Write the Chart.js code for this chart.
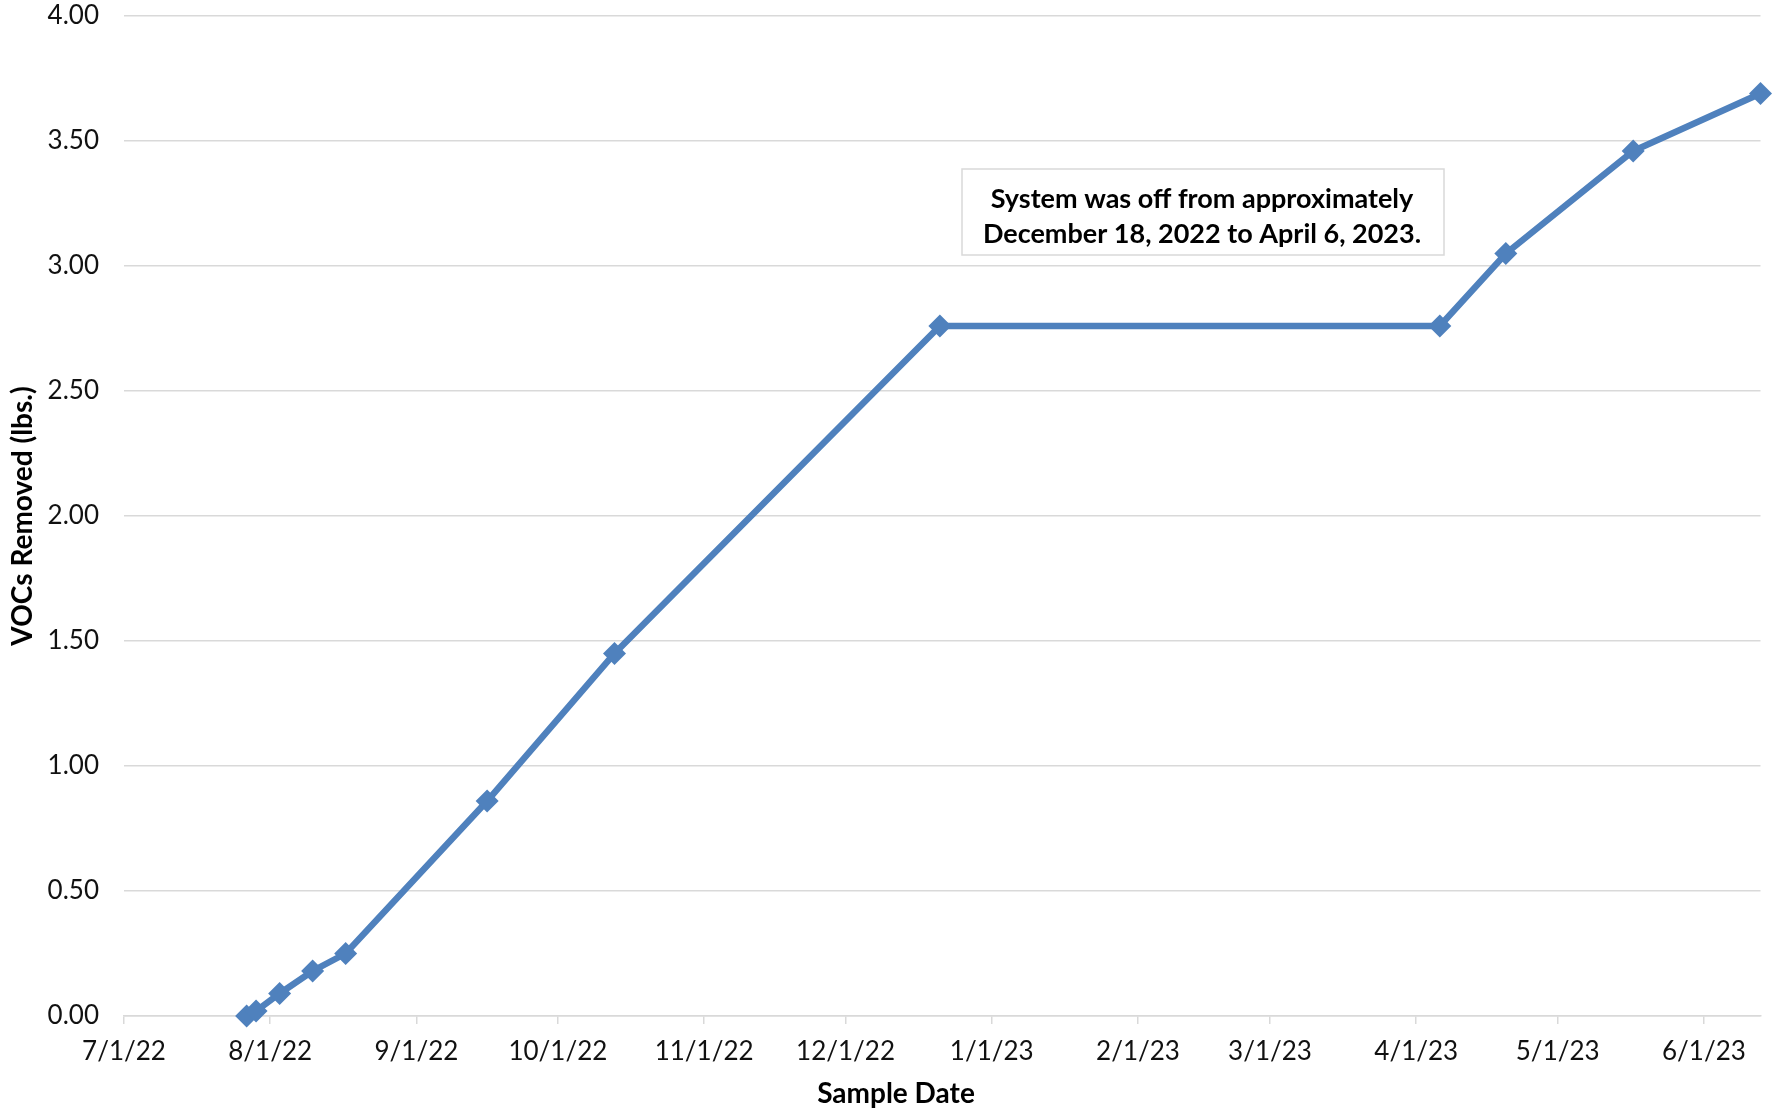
<!DOCTYPE html>
<html>
<head>
<meta charset="utf-8">
<script src="https://cdn.jsdelivr.net/npm/chart.js@4.4.1/dist/chart.umd.min.js"></script>
<style>
  html, body { margin: 0; padding: 0; background: #fff; }
  #wrap { width: 1772px; height: 1115px; }
</style>
</head>
<body>
<div id="wrap"><canvas id="chart"></canvas></div>
<script>
// sample dates and cumulative VOCs removed (lbs.)
const sampleDates = ['2022-07-27', '2022-07-29', '2022-08-03', '2022-08-10', '2022-08-17', '2022-09-16',
  '2022-10-13', '2022-12-21', '2023-04-06', '2023-04-20', '2023-05-17', '2023-06-13'];
const vocsRemoved = [0.00, 0.02, 0.09, 0.18, 0.25, 0.86, 1.45, 2.76, 2.76, 3.05, 3.46, 3.69];

const xTickDates = ['2022-07-01', '2022-08-01', '2022-09-01', '2022-10-01', '2022-11-01', '2022-12-01',
  '2023-01-01', '2023-02-01', '2023-03-01', '2023-04-01', '2023-05-01', '2023-06-01'];
const xMinDate = '2022-07-01';
const xMaxDate = '2023-06-13';

const yMin = 0;
const yMax = 4;
const yStep = 0.5;

const xTitle = 'Sample Date';
const yTitle = 'VOCs Removed (lbs.)';
const noteLines = ['System was off from approximately', 'December 18, 2022 to April 6, 2023.'];

const toDay = (s) => {
  const [y, m, d] = s.split('-').map(Number);
  return Date.UTC(y, m - 1, d) / 86400000;
};
const dayLabel = (v) => {
  const dt = new Date(v * 86400000);
  return (dt.getUTCMonth() + 1) + '/' + dt.getUTCDate() + '/' + String(dt.getUTCFullYear()).slice(2);
};

const points = sampleDates.map((d, i) => ({ x: toDay(d), y: vocsRemoved[i] }));

const grey = '#d9d9d9';
const blue = '#4f81bd';
const tickFont = { family: 'Lato', size: 26 };

// text box and x title drawn on top
const extras = {
  id: 'extras',
  afterDraw(chart) {
    const ctx = chart.ctx;
    ctx.save();
    // note box
    const bx = 962, by = 169, bw = 482, bh = 86;
    ctx.fillStyle = '#fff';
    ctx.fillRect(bx, by, bw, bh);
    ctx.strokeStyle = grey;
    ctx.lineWidth = 1.5;
    ctx.strokeRect(bx, by, bw, bh);
    ctx.fillStyle = '#000';
    ctx.font = 'bold 27px Lato';
    ctx.textAlign = 'center';
    ctx.textBaseline = 'middle';
    ctx.fillText(noteLines[0], bx + bw / 2 - 1, 199);
    ctx.fillText(noteLines[1], bx + bw / 2 - 1, 234);
    // x axis title
    ctx.font = 'bold 28px Lato';
    ctx.fillText(xTitle, 896, 1094);
    ctx.restore();
  }
};

new Chart(document.getElementById('chart'), {
  type: 'line',
  data: {
    datasets: [{
      data: points,
      borderColor: blue,
      backgroundColor: blue,
      borderWidth: 6.5,
      tension: 0,
      pointStyle: 'rectRot',
      pointRadius: 11.5,
      pointBorderWidth: 0,
      pointBackgroundColor: blue,
      clip: false,
    }],
  },
  options: {
    responsive: true,
    maintainAspectRatio: false,
    animation: false,
    layout: { padding: { left: 0, right: 10, top: 16, bottom: 0 } },
    plugins: {
      legend: { display: false },
      tooltip: { enabled: false },
    },
    scales: {
      x: {
        type: 'linear',
        min: toDay(xMinDate),
        max: toDay(xMaxDate),
        afterBuildTicks: (scale) => {
          scale.ticks = xTickDates.map((d) => ({ value: toDay(d) }));
        },
        afterFit: (scale) => {
          scale.height = 99;
          scale.paddingLeft = 0;
          scale.paddingRight = 0;
        },
        grid: {
          drawOnChartArea: false,
          drawTicks: true,
          tickLength: 8,
          color: grey,
          lineWidth: 1.5,
        },
        border: { display: true, color: grey, width: 1.5 },
        ticks: {
          color: '#111',
          font: tickFont,
          padding: 12,
          maxRotation: 0,
          autoSkip: false,
          callback: (v) => dayLabel(v),
        },
      },
      y: {
        min: yMin,
        max: yMax,
        afterFit: (scale) => {
          scale.width = 124;
          scale.paddingTop = 0;
          scale.paddingBottom = 0;
        },
        grid: { color: grey, lineWidth: 1.5, drawTicks: false },
        border: { display: false },
        ticks: {
          stepSize: yStep,
          color: '#111',
          font: tickFont,
          padding: 25,
          callback: (v) => Number(v).toFixed(2),
        },
        title: {
          display: true,
          text: yTitle,
          color: '#000',
          font: { family: 'Lato', size: 28, weight: 'bold' },
          padding: { top: 6, bottom: 0 },
        },
      },
    },
  },
  plugins: [extras],
});
</script>
</body>
</html>
